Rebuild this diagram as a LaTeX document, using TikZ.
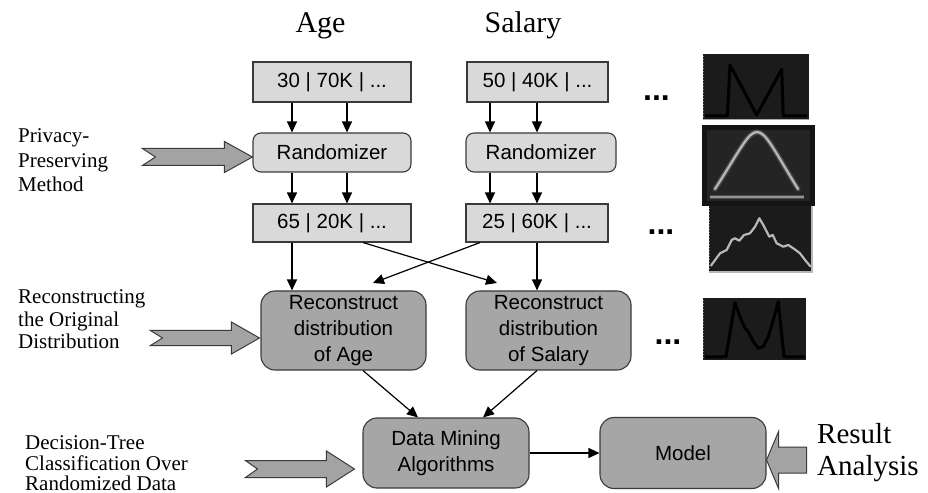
\documentclass[tikz,border=0pt]{standalone}
\usepackage{fontspec}
\setmainfont{Liberation Serif}
\newfontfamily\arialf{Liberation Sans}
\usetikzlibrary{arrows.meta,calc}
\definecolor{boxline}{HTML}{3A3A3A}
\definecolor{lightfill}{HTML}{D9D9D9}
\definecolor{darkfill}{HTML}{A6A6A6}
\definecolor{arrowfill}{HTML}{A3A3A3}
\definecolor{histbg}{HTML}{1B1B1B}
\definecolor{histline}{HTML}{B8B8B8}
\tikzset{
  databox/.style={draw=boxline, fill=lightfill, line width=1.1bp, inner sep=0pt,
    font=\arialf\fontsize{20.5bp}{26bp}\selectfont},
  randbox/.style={databox, rounded corners=8bp},
  procbox/.style={draw=boxline, fill=darkfill, line width=1.1bp, inner sep=0pt, rounded corners=14bp,
    align=center, font=\arialf\fontsize{20.5bp}{26bp}\selectfont},
  conn/.style={line width=1.2bp, -{Triangle[length=11bp,width=10bp]}},
  blockarrow/.style={draw=boxline, fill=arrowfill, line width=1bp, line join=miter},
  sidetext/.style={anchor=base west, inner sep=0pt, font=\fontsize{21bp}{24bp}\selectfont},
  headtext/.style={anchor=base, inner sep=0pt, font=\fontsize{30bp}{34bp}\selectfont},
  dotstext/.style={anchor=base west, inner sep=0pt, font=\arialf\bfseries\fontsize{32bp}{34bp}\selectfont},
  pics/chev/.style args={#1/#2/#3/#4/#5}{code={
    \draw[blockarrow] (0,0) -- (-#2,-#4) -- (-#2,-#3) -- (-#1,-#3) -- (-#1+#5,0)
      -- (-#1,#3) -- (-#2,#3) -- (-#2,#4) -- cycle;}}
}
\begin{document}
\begin{tikzpicture}[x=1bp,y=-1bp]
\useasboundingbox (0,0) rectangle (928,493);

% headings
\node[headtext] (hage) at (320.5,33) {Age};
\node[headtext] (hsal) at (523,33) {Salary};

% data boxes
\node[databox, minimum width=158bp, minimum height=40bp] (t1) at (332,82) {30 | 70K | ...};
\node[databox, minimum width=141bp, minimum height=40bp] (t2) at (537.5,82) {50 | 40K | ...};
\node[randbox, minimum width=158bp, minimum height=39bp] (r1) at (332,152.5) {Randomizer};
\node[randbox, minimum width=150bp, minimum height=39bp] (r2) at (541,152.5) {Randomizer};
\node[databox, minimum width=158bp, minimum height=38bp] (d1) at (332,223) {65 | 20K | ...};
\node[databox, minimum width=142bp, minimum height=38bp] (d2) at (537,223) {25 | 60K | ...};
\node[procbox, minimum width=165bp, minimum height=79bp] (rs1) at (343.5,330.5) {Reconstruct\\distribution\\of Age};
\node[procbox, minimum width=165bp, minimum height=79bp] (rs2) at (548.5,330.5) {Reconstruct\\distribution\\of Salary};
\node[procbox, minimum width=166bp, minimum height=70bp] (dm) at (446,453) {Data Mining\\Algorithms};
\node[procbox, minimum width=166bp, minimum height=71bp] (model) at (683,453) {Model};

% x positions
\coordinate (ax1) at (292,0);
\coordinate (ax2) at (347,0);
\coordinate (sx1) at (490,0);
\coordinate (sx2) at (537,0);
\coordinate (cx1) at (363,0);
\coordinate (cx2) at (480,0);
\coordinate (dx1) at (418,0);
\coordinate (dx2) at (483,0);
\coordinate (c1e) at (497,283);
\coordinate (c2e) at (373,283);

% connectors
\draw[conn] (t1.south -| ax1) -- (r1.north -| ax1);
\draw[conn] (t1.south -| ax2) -- (r1.north -| ax2);
\draw[conn] (t2.south -| sx1) -- (r2.north -| sx1);
\draw[conn] (t2.south -| sx2) -- (r2.north -| sx2);
\draw[conn] (r1.south -| ax1) -- (d1.north -| ax1);
\draw[conn] (r1.south -| ax2) -- (d1.north -| ax2);
\draw[conn] (r2.south -| sx1) -- (d2.north -| sx1);
\draw[conn] (r2.south -| sx2) -- (d2.north -| sx2);
\draw[conn] (d1.south -| ax1) -- (rs1.north -| ax1);
\draw[conn] (d2.south -| sx2) -- (rs2.north -| sx2);
\draw[conn] (d1.south -| cx1) -- (c1e);
\draw[conn] (d2.south -| cx2) -- (c2e);
\draw[conn] (rs1.south -| cx1) -- (dm.north -| dx1);
\draw[conn] (rs2.south -| sx2) -- (dm.north -| dx2);
\draw[conn] (dm.east) -- (dm.east -| model.west);

% block arrows
\pic at ($(r1.west)+(0,4.5)$) {chev=110/28/8.5/15.5/13};
\pic at ($(rs1.west)+(-1,7.5)$) {chev=109/28/7.5/16/12};
\pic at ($(dm.west)+(-8,16)$) {chev=109/28/8.5/18/12};
\coordinate (rtip) at ($(model.east)+(0,7)$);
\draw[blockarrow] (rtip) -- ++(12,-28.5) -- ++(0,15.5) -- ++(28,0) -- ++(0,26) -- ++(-28,0) -- ++(0,15.5) -- cycle;

% side texts
\node[sidetext] (pp1) at (18,143) {Privacy-};
\node[sidetext] (pp2) at (18,167.5) {Preserving};
\node[sidetext] (pp3) at (18,192) {Method};
\node[sidetext] (ro1) at (18,304) {Reconstructing};
\node[sidetext] (ro2) at (18,326.5) {the Original};
\node[sidetext] (ro3) at (18,349) {Distribution};
\node[sidetext] (dt1) at (25,449) {Decision-Tree};
\node[sidetext] (dt2) at (25,470) {Classification Over};
\node[sidetext] (dt3) at (25,490) {Randomized Data};
\node[anchor=base west, inner sep=0pt, font=\fontsize{29bp}{32bp}\selectfont] (ra1) at (817,443) {Result};
\node[anchor=base west, inner sep=0pt, font=\fontsize{29bp}{32bp}\selectfont] (ra2) at (817,475) {Analysis};

% dots
\node[dotstext] (dots1) at (643,101) {...};
\node[dotstext] (dots2) at (647.5,235) {...};
\node[dotstext] (dots3) at (654.5,344.5) {...};

% histogram 1 (top)
\fill[histbg] (703,54) rectangle (809,120);
\draw[gray!70, line width=1bp] (703,119.5) -- (809,119.5);
\draw[gray, line width=0.8bp, dash pattern=on 0.8bp off 2.2bp] (703.5,56) -- (703.5,118);
\draw[black, line width=3bp, line join=round] (705,116) -- (727.3,116) -- (730,65) -- (756.7,115) -- (781.7,69.3) -- (783.3,116) -- (807,116);

% histogram 2 (bell)
\fill[black!92] (702,125) rectangle (815,206);
\fill[black!86] (707,130) rectangle (810,201);
\draw[gray!60!black, line width=5bp, line cap=round] (715,189) .. controls (740,150) and (748,132) .. (757,132) .. controls (766,132) and (774,150) .. (798,189);
\draw[histline, line width=2.2bp, line cap=round] (715,189) .. controls (740,150) and (748,132) .. (757,132) .. controls (766,132) and (774,150) .. (798,189);
\draw[gray!60!black, line width=4bp] (710,197) -- (804,197);
\draw[histline!80!black, line width=1.6bp] (710,197) -- (804,197);

% histogram 3 (noisy)
\fill[histbg] (709,206) rectangle (812,272);
\draw[histline, line width=1.5bp] (812,206) -- (812,272) -- (709,272);
\draw[gray, line width=0.8bp, dash pattern=on 0.8bp off 2.2bp] (709.5,208) -- (709.5,270);
\draw[histline, line width=2.2bp, line join=round]
  (710.7,266) -- (720,253.3) -- (726.7,250) -- (731.7,240) -- (735,238.3) -- (739.3,240.7)
  -- (744,235) -- (750,233.3) -- (755,226.7) -- (759.3,218.3) -- (763.3,225) -- (769.3,236.7)
  -- (772.7,235) -- (776.7,243.3) -- (783.3,246.7) -- (788.3,245) -- (793.3,248.3) -- (800,253.3)
  -- (805,260) -- (810.7,266.7);

% histogram 4 (reconstructed)
\fill[histbg] (703,298) rectangle (806,360);
\draw[gray, line width=0.8bp, dash pattern=on 0.8bp off 2.2bp] (703.5,300) -- (703.5,358);
\draw[black, line width=3bp, line join=round] (705,357) -- (726,356.7) -- (735,302.7) -- (740,316.7)
  -- (745,328.3) -- (748.3,331.7) -- (753.3,341.7) -- (758.3,348.3) -- (763.3,346.7) -- (768.3,336.7)
  -- (773.3,320) -- (778.3,301.7) -- (784,356.7) -- (805,357);
\end{tikzpicture}
\end{document}
